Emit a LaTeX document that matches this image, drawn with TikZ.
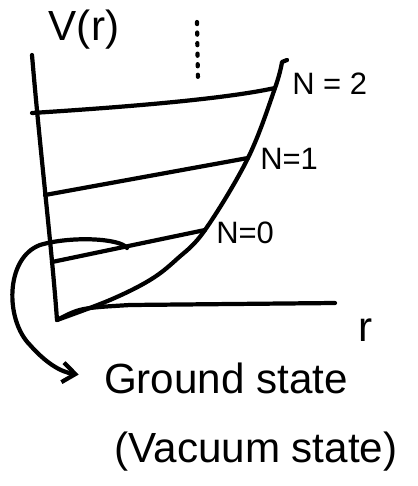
\documentclass[tikz,border=0pt]{standalone}
\usepackage{fontspec}
\setmainfont{Liberation Sans}
\usetikzlibrary{arrows.meta}

\tikzset{
  pen/.style={line width=3pt, line cap=round, line join=round},
  bigtext/.style={font=\fontsize{30}{32}\selectfont, inner sep=0pt},
  leveltext/.style={font=\fontsize{22}{24}\selectfont, inner sep=0pt, anchor=west},
}

\begin{document}
\begin{tikzpicture}[x=0.025cm, y=-0.025cm]
  \useasboundingbox (0,0) rectangle (418,486);

  %% Axes
  \coordinate (vtop) at (32,55);
  \coordinate (origin) at (57,320);
  \coordinate (rend) at (335,303);
  \draw[pen] (vtop) .. controls (40,150) and (52,250) .. (origin);
  \draw[pen] (origin) .. controls (80,308) .. (130,305) -- (rend);
  \node[bigtext] (vlabel) at (84,30) {V(r)};
  \node[bigtext] (rlabel) at (366,330) {r};

  %% Potential well (right branch)
  \coordinate (n0r) at (205,230);
  \coordinate (n1r) at (248,158);
  \coordinate (n2r) at (275,88);
  \draw[pen] plot[smooth, tension=0.6] coordinates
    {(57,320) (110,300) (150,280) (177,259) (n0r) (n1r) (n2r) (282,62)}
    -- (287,60);

  %% Energy levels
  \coordinate (n0l) at (52,262);
  \coordinate (n1l) at (45,195);
  \coordinate (n2l) at (32,113);
  \draw[pen] (n2l) .. controls (110,108) and (220,100) .. (n2r);
  \draw[pen] (n1l) -- (n1r);
  \draw[pen] (n0l) -- (n0r);
  \node[leveltext] (n2) at (292,84) {N = 2};
  \node[leveltext] (n1) at (260,159) {N=1};
  \node[leveltext] (n0) at (216,233) {N=0};

  %% Dots: higher levels
  \coordinate (dtop) at (197,22);
  \coordinate (dbot) at (198,83);
  \draw[pen, dash pattern=on 1.5pt off 6pt] (dtop) -- (dbot);

  %% Ground state label and pointer
  \node[bigtext] (gs) at (226,378) {Ground state};
  \node[bigtext] (vac) at (256,452) {(Vacuum state)};
  \coordinate (loop) at (127,248);
  \draw[pen, -{Straight Barb[length=9pt, width=14pt]}, shorten >=18pt]
    (loop) .. controls (120,238) and (70,236) .. (40,245)
    .. controls (5,258) and (5,320) .. (30,345)
    .. controls (45,362) and (60,372) .. (gs.west);
\end{tikzpicture}
\end{document}
